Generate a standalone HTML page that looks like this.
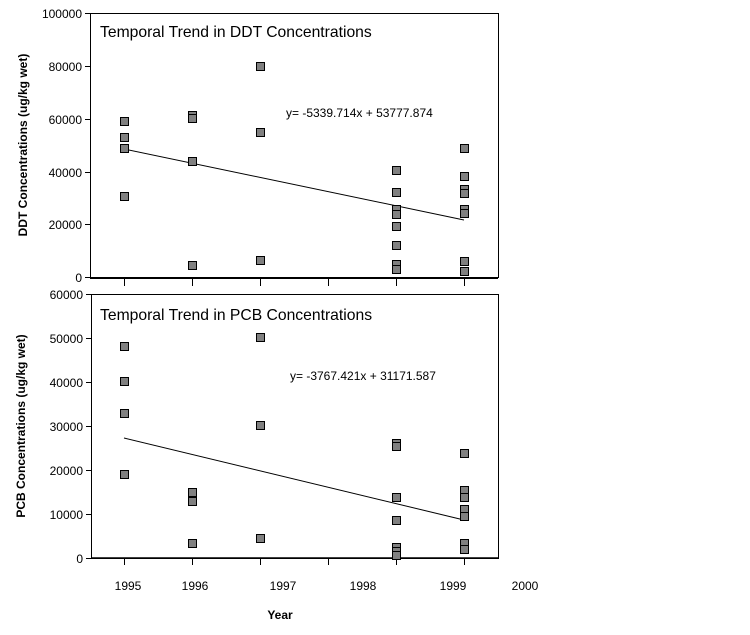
<!DOCTYPE html>
<html><head><style>
html,body{margin:0;padding:0;background:#fff;}
svg{display:block;font-family:"Liberation Sans",Arial,sans-serif;}
</style></head><body>
<svg width="750" height="635" viewBox="0 0 750 635" xmlns="http://www.w3.org/2000/svg">
<g stroke="#000" fill="none">
<rect x="90.5" y="13.5" width="408" height="264" stroke-width="1"/>
<line x1="90" y1="278" x2="498" y2="278" stroke-width="2"/>
<rect x="91.5" y="294.5" width="407" height="264"/>
<line x1="91" y1="558" x2="498" y2="558" stroke-width="1.5"/>
<line x1="85" y1="13.5" x2="90" y2="13.5"/>
<line x1="85" y1="66.5" x2="90" y2="66.5"/>
<line x1="85" y1="119.5" x2="90" y2="119.5"/>
<line x1="85" y1="172.5" x2="90" y2="172.5"/>
<line x1="85" y1="224.5" x2="90" y2="224.5"/>
<line x1="85" y1="277.5" x2="90" y2="277.5"/>
<line x1="86" y1="294.5" x2="91" y2="294.5"/>
<line x1="86" y1="338.5" x2="91" y2="338.5"/>
<line x1="86" y1="382.5" x2="91" y2="382.5"/>
<line x1="86" y1="426.5" x2="91" y2="426.5"/>
<line x1="86" y1="470.5" x2="91" y2="470.5"/>
<line x1="86" y1="514.5" x2="91" y2="514.5"/>
<line x1="86" y1="558.5" x2="91" y2="558.5"/>
<path d="M124.5 279V286M192.5 279V286M260.5 279V286M328.5 279V286M396.5 279V286M464.5 279V286"/>
<path d="M124.5 559V565M192.5 559V565M260.5 559V565M328.5 559V565M396.5 559V565M464.5 559V565"/>
<line x1="124" y1="149" x2="464" y2="220"/>
<line x1="124" y1="438" x2="464" y2="520"/>
</g>
<g font-size="12" fill="#000" text-anchor="end">
<text x="82" y="18">100000</text><text x="82" y="71">80000</text><text x="82" y="124">60000</text>
<text x="82" y="177">40000</text><text x="82" y="229">20000</text><text x="82" y="282">0</text>
<text x="83" y="299">60000</text><text x="83" y="343">50000</text><text x="83" y="387">40000</text>
<text x="83" y="431">30000</text><text x="83" y="475">20000</text><text x="83" y="519">10000</text><text x="83" y="563">0</text>
</g>
<g font-size="12" text-anchor="middle">
<text x="128" y="590">1995</text><text x="195" y="590">1996</text><text x="283" y="590">1997</text>
<text x="363" y="590">1998</text><text x="453" y="590">1999</text><text x="525" y="590">2000</text>
<text x="280" y="619" font-weight="bold">Year</text>
</g>
<text x="100" y="37" font-size="15.7">Temporal Trend in DDT Concentrations</text>
<text x="100" y="320" font-size="15.7">Temporal Trend in PCB Concentrations</text>
<text x="286" y="117" font-size="12">y=  -5339.714x + 53777.874</text>
<text x="290" y="380" font-size="12">y=  -3767.421x + 31171.587</text>
<text transform="translate(27,145) rotate(-90)" font-size="12" font-weight="bold" text-anchor="middle">DDT Concentrations (ug/kg wet)</text>
<text transform="translate(25,426) rotate(-90)" font-size="12" font-weight="bold" text-anchor="middle">PCB Concentrations (ug/kg wet)</text>
<g fill="#808080" stroke="#000" stroke-width="1">
<rect x="120.5" y="117.5" width="8" height="8"/><rect x="120.5" y="133.5" width="8" height="8"/>
<rect x="120.5" y="144.5" width="8" height="8"/><rect x="120.5" y="192.5" width="8" height="8"/>
<rect x="188.5" y="111.5" width="8" height="8"/><rect x="188.5" y="114.5" width="8" height="8"/>
<rect x="188.5" y="157.5" width="8" height="8"/><rect x="188.5" y="261.5" width="8" height="8"/>
<rect x="256.5" y="62.5" width="8" height="8"/><rect x="256.5" y="128.5" width="8" height="8"/>
<rect x="256.5" y="256.5" width="8" height="8"/>
<rect x="392.5" y="166.5" width="8" height="8"/><rect x="392.5" y="188.5" width="8" height="8"/>
<rect x="392.5" y="205.5" width="8" height="8"/><rect x="392.5" y="210.5" width="8" height="8"/>
<rect x="392.5" y="222.5" width="8" height="8"/><rect x="392.5" y="241.5" width="8" height="8"/>
<rect x="392.5" y="260.5" width="8" height="8"/><rect x="392.5" y="265.5" width="8" height="8"/>
<rect x="460.5" y="144.5" width="8" height="8"/><rect x="460.5" y="172.5" width="8" height="8"/>
<rect x="460.5" y="185.5" width="8" height="8"/><rect x="460.5" y="189.5" width="8" height="8"/>
<rect x="460.5" y="205.5" width="8" height="8"/><rect x="460.5" y="209.5" width="8" height="8"/>
<rect x="460.5" y="257.5" width="8" height="8"/><rect x="460.5" y="267.5" width="8" height="8"/>
<rect x="120.5" y="342.5" width="8" height="8"/><rect x="120.5" y="377.5" width="8" height="8"/>
<rect x="120.5" y="409.5" width="8" height="8"/><rect x="120.5" y="470.5" width="8" height="8"/>
<rect x="188.5" y="488.5" width="8" height="8"/><rect x="188.5" y="497.5" width="8" height="8"/>
<rect x="188.5" y="539.5" width="8" height="8"/>
<rect x="256.5" y="333.5" width="8" height="8"/><rect x="256.5" y="421.5" width="8" height="8"/>
<rect x="256.5" y="534.5" width="8" height="8"/>
<rect x="392.5" y="439.5" width="8" height="8"/><rect x="392.5" y="442.5" width="8" height="8"/>
<rect x="392.5" y="493.5" width="8" height="8"/><rect x="392.5" y="516.5" width="8" height="8"/>
<rect x="392.5" y="543.5" width="8" height="8"/><rect x="392.5" y="547.5" width="8" height="8"/>
<rect x="392.5" y="551.5" width="8" height="8"/>
<rect x="460.5" y="449.5" width="8" height="8"/><rect x="460.5" y="486.5" width="8" height="8"/>
<rect x="460.5" y="493.5" width="8" height="8"/><rect x="460.5" y="505.5" width="8" height="8"/>
<rect x="460.5" y="512.5" width="8" height="8"/><rect x="460.5" y="539.5" width="8" height="8"/>
<rect x="460.5" y="545.5" width="8" height="8"/>
</g>
</svg>
</body></html>
